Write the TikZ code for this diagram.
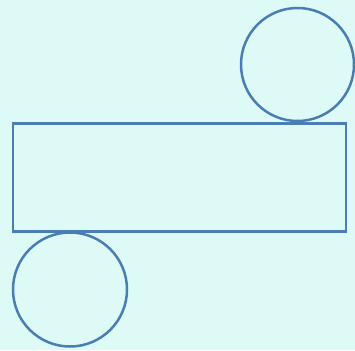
\documentclass[tikz,border=0pt]{standalone}
\begin{document}
\begin{tikzpicture}[x=1pt,y=-1pt,
  shapeline/.style={draw=strokeblue,line width=2.5pt}]
\definecolor{bgcyan}{HTML}{DDFAF6}
\definecolor{strokeblue}{HTML}{4A7DB3}
\fill[bgcyan] (0,0) rectangle (355,350);
\useasboundingbox (0,0) rectangle (355,350);
\node[shapeline,rectangle,minimum width=333pt,minimum height=108pt,inner sep=0pt] (rect) at (179.5,177.5) {};
\node[shapeline,circle,minimum size=113pt,inner sep=0pt] (topc) at (297.5,64.5) {};
\node[shapeline,circle,minimum size=114pt,inner sep=0pt] (botc) at (70,289.5) {};
\end{tikzpicture}
\end{document}
